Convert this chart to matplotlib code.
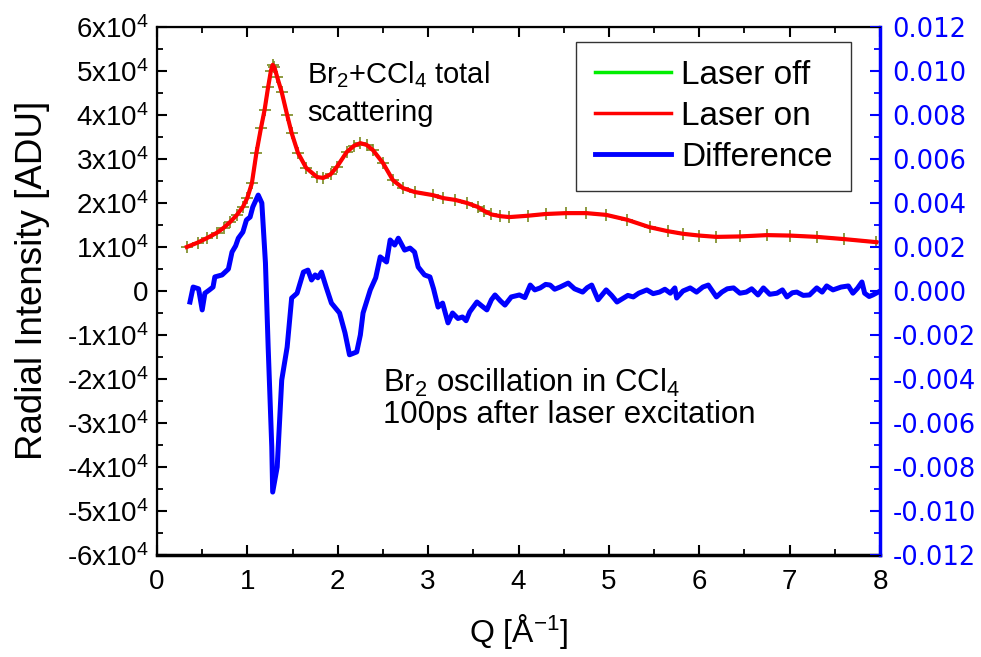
import matplotlib
matplotlib.use("Agg")
import matplotlib.pyplot as plt
from matplotlib.lines import Line2D
from matplotlib.ticker import MultipleLocator, FuncFormatter

plt.rcParams['font.family'] = ['Liberation Sans', 'DejaVu Sans']
plt.rcParams['mathtext.fontset'] = 'custom'
plt.rcParams['mathtext.rm'] = 'Liberation Sans'
plt.rcParams['mathtext.it'] = 'Liberation Sans'
plt.rcParams['mathtext.bf'] = 'Liberation Sans'
plt.rcParams['axes.unicode_minus'] = False

# Total scattering (radial intensity, ADU) vs Q [1/Angstrom]
q_total = [0.33, 0.45, 0.55, 0.66, 0.74, 0.81, 0.88, 0.95, 1.00, 1.05, 1.10, 1.15,
           1.19, 1.23, 1.26, 1.28, 1.30, 1.33, 1.38, 1.44, 1.49, 1.56, 1.65, 1.77,
           1.84, 1.92, 1.99, 2.10, 2.18, 2.25, 2.32, 2.39, 2.50, 2.61, 2.72, 2.85,
           3.05, 3.17, 3.30, 3.43, 3.55, 3.62, 3.70, 3.80, 3.90, 4.10, 4.30, 4.53,
           4.75, 4.97, 5.20, 5.45, 5.65, 5.82, 6.00, 6.19, 6.45, 6.75, 7.00, 7.30,
           7.60, 7.96]
laser_off = [1.00e4, 1.10e4, 1.20e4, 1.32e4, 1.44e4, 1.57e4, 1.72e4, 1.91e4, 2.12e4,
             2.45e4, 3.14e4, 3.70e4, 4.11e4, 4.64e4, 5.00e4, 5.14e4, 5.08e4, 4.86e4,
             4.52e4, 4.00e4, 3.59e4, 3.14e4, 2.80e4, 2.59e4, 2.57e4, 2.65e4, 2.82e4,
             3.16e4, 3.30e4, 3.36e4, 3.32e4, 3.20e4, 2.91e4, 2.52e4, 2.34e4, 2.25e4,
             2.18e4, 2.11e4, 2.07e4, 2.00e4, 1.91e4, 1.82e4, 1.74e4, 1.70e4, 1.68e4,
             1.71e4, 1.75e4, 1.77e4, 1.77e4, 1.73e4, 1.62e4, 1.45e4, 1.36e4, 1.30e4,
             1.26e4, 1.23e4, 1.24e4, 1.27e4, 1.26e4, 1.23e4, 1.18e4, 1.11e4]
laser_on = list(laser_off)

# Difference signal (laser on - laser off), right axis
q_diff = [0.365, 0.40, 0.46, 0.50, 0.53, 0.58, 0.62, 0.64, 0.72, 0.79, 0.83, 0.87,
          0.90, 0.95, 0.99, 1.03, 1.06, 1.12, 1.16, 1.20, 1.23, 1.27, 1.28, 1.33,
          1.38, 1.44, 1.49, 1.55, 1.62, 1.67, 1.71, 1.75, 1.78, 1.82, 1.87, 1.93,
          2.02, 2.08, 2.13, 2.21, 2.25, 2.28, 2.36, 2.42, 2.47, 2.54, 2.58, 2.63,
          2.67, 2.74, 2.80, 2.85, 2.89, 2.96, 3.02, 3.06, 3.11, 3.16, 3.22, 3.27,
          3.33, 3.38, 3.42, 3.46, 3.54, 3.60, 3.65, 3.70, 3.74, 3.80, 3.85, 3.92,
          4.01, 4.07, 4.13, 4.18, 4.24, 4.30, 4.35, 4.40, 4.46, 4.55, 4.62, 4.71,
          4.76, 4.81, 4.88, 4.97, 5.03, 5.09, 5.15, 5.21, 5.27, 5.33, 5.42, 5.49,
          5.56, 5.62, 5.68, 5.73, 5.75, 5.82, 5.90, 5.97, 6.04, 6.10, 6.19, 6.25,
          6.31, 6.38, 6.45, 6.52, 6.58, 6.65, 6.71, 6.78, 6.86, 6.92, 6.97, 7.03,
          7.08, 7.15, 7.22, 7.30, 7.36, 7.41, 7.48, 7.57, 7.65, 7.70, 7.75, 7.80,
          7.83, 7.88, 7.92, 7.98]
difference = [-0.00050, 0.00018, 0.00010, -0.00086, -0.00010, 0.00005, 0.00018, 0.00064,
              0.00073, 0.00100, 0.00177, 0.00205, 0.00240, 0.00268, 0.00323, 0.00336,
              0.00382, 0.00436, 0.00400, 0.00127, -0.00255, -0.00709, -0.00914, -0.00800,
              -0.00405, -0.00255, -0.00032, -0.00010, 0.00086, 0.00095, 0.00050, 0.00073,
              0.00060, 0.00086, 0.00020, -0.00055, -0.00100, -0.00190, -0.00290, -0.00277,
              -0.00200, -0.00100, 0.00005, 0.00060, 0.00155, 0.00132, 0.00232, 0.00209,
              0.00240, 0.00186, 0.00195, 0.00177, 0.00109, 0.00073, 0.00064, 0.00010,
              -0.00073, -0.00055, -0.00145, -0.00100, -0.00125, -0.00118, -0.00135, -0.00095,
              -0.00050, -0.00070, -0.00086, -0.00040, -0.00018, -0.00045, -0.00064, -0.00027,
              -0.00018, -0.00030, 0.00027, 0.00005, 0.00014, 0.00030, 0.00027, 0.00008,
              0.00018, 0.00036, 0.00010, -0.00005, 0.00015, 0.00027, -0.00040, 0.00005,
              -0.00020, -0.00050, -0.00035, -0.00020, -0.00027, -0.00010, 0.00005, -0.00012,
              -0.00005, 0.00008, -0.00010, 0.00014, -0.00032, 0.00000, 0.00014, -0.00005,
              0.00018, 0.00027, -0.00027, -0.00005, 0.00010, 0.00014, -0.00010, -0.00005,
              0.00010, -0.00018, 0.00014, -0.00015, -0.00010, 0.00005, -0.00027, -0.00008,
              -0.00005, -0.00020, -0.00018, 0.00014, -0.00005, 0.00023, 0.00005, 0.00018,
              0.00023, -0.00010, 0.00012, 0.00041, -0.00010, -0.00025, -0.00018, -0.00005]

fig = plt.figure(figsize=(9.81, 6.57), dpi=100)
ax = fig.add_axes([157 / 981, 1 - 555 / 657, 723 / 981, 528 / 657])
ax2 = ax.twinx()

ax.plot(q_total, laser_off, color='#00dd00', lw=2.0, marker='+', ms=8, mew=1.2,
        mec='#7a8a20', zorder=2)
ax.plot(q_total, laser_on, color='#ff0000', lw=3.0, zorder=3)
ax2.plot(q_diff, difference, color='#0000ff', lw=3.6, solid_joinstyle='round', zorder=4)

ax.set_xlim(0, 8)
ax.set_ylim(-6e4, 6e4)
ax2.set_ylim(-0.012, 0.012)

ax.xaxis.set_major_locator(MultipleLocator(1))
ax.xaxis.set_minor_locator(MultipleLocator(0.5))
ax.yaxis.set_major_locator(MultipleLocator(1e4))
ax.yaxis.set_minor_locator(MultipleLocator(5e3))
ax2.yaxis.set_major_locator(MultipleLocator(0.002))
ax2.yaxis.set_minor_locator(MultipleLocator(0.001))


def sci_label(v, pos):
    n = int(round(v / 1e4))
    if n == 0:
        return '0'
    return f'{n}x10$^{{4}}$'


ax.yaxis.set_major_formatter(FuncFormatter(sci_label))
ax2.yaxis.set_major_formatter(FuncFormatter(lambda v, p: f'{v:.3f}'))

ax.tick_params(axis='both', which='both', direction='in', top=True, right=False)
ax.tick_params(axis='both', which='major', length=7, width=1.5)
ax.tick_params(axis='both', which='minor', length=4, width=1.3)
ax.tick_params(axis='x', labelsize=20, pad=10)
ax.tick_params(axis='y', labelsize=20, pad=6)
ax2.tick_params(axis='y', which='both', direction='in', colors='#0000ff')
ax2.tick_params(axis='y', which='major', length=7, width=1.5, pad=9,
                labelsize=18.5, labelfontfamily='DejaVu Sans')
ax2.tick_params(axis='y', which='minor', length=4, width=1.3)

for s in ['left', 'top', 'bottom']:
    ax.spines[s].set_linewidth(1.6)
ax.spines['bottom'].set_linewidth(2.5)
ax2.spines['right'].set_color('#0000ff')
ax2.spines['right'].set_linewidth(2.5)

ax.set_xlabel('Q [Å$^{-1}$]', fontsize=23, labelpad=12)
ax.set_ylabel('Radial Intensity [ADU]', fontsize=26.5)
ax.yaxis.set_label_coords(-0.148, 0.52)

ax.text(1.66, 4.73e4, 'Br$_{2}$+CCl$_{4}$ total', fontsize=21, va='baseline', ha='left')
ax.text(1.66, 3.87e4, 'scattering', fontsize=21, va='baseline', ha='left')
ax.text(2.5, -2.3e4, 'Br$_{2}$ oscillation in CCl$_{4}$', fontsize=22.4, va='baseline', ha='left')
ax.text(2.5, -3.0e4, '100ps after laser excitation', fontsize=22.4, va='baseline', ha='left')

handles = [Line2D([], [], color='#00ee00', lw=2.5),
           Line2D([], [], color='#ff0000', lw=2.5),
           Line2D([], [], color='#0000ff', lw=3.5)]
leg = ax2.legend(handles, ['Laser off', 'Laser on', 'Difference'], loc='upper right',
                 bbox_to_anchor=(0.96, 0.972), fontsize=24, frameon=True, fancybox=False,
                 edgecolor='black', handlelength=2.3, handletextpad=0.3,
                 labelspacing=0.3, borderpad=0.55, borderaxespad=0)
leg.get_frame().set_linewidth(1.0)

fig.savefig('out.png', dpi=100)
